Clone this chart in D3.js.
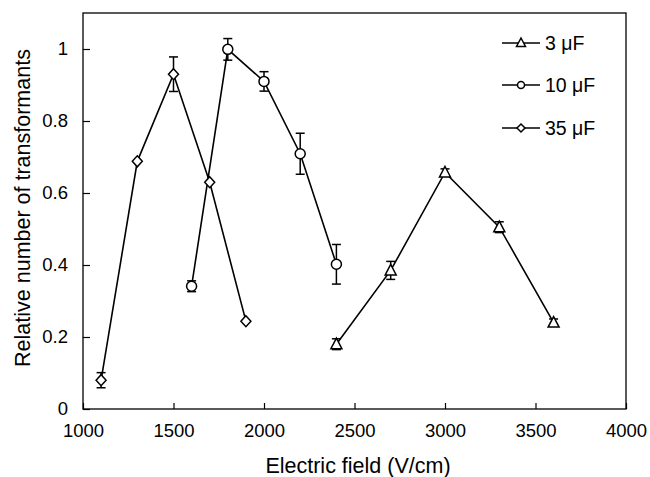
<!DOCTYPE html>
<html><head><meta charset="utf-8">
<script src="https://cdn.jsdelivr.net/npm/d3@7"></script>
<style>body{margin:0;background:#fff}svg{display:block}text{font-family:"Liberation Sans",Arial,sans-serif;fill:#000}</style>
</head><body><svg id="c" width="650" height="477"></svg>
<script>
const xTicks = [1000,1500,2000,2500,3000,3500,4000];
const yTicks = [0,0.2,0.4,0.6,0.8,1];
const seriesNames = ["3 \u03bcF","10 \u03bcF","35 \u03bcF"];
const x3 = [2400,2700,3000,3300,3600];
const y3 = [0.18,0.385,0.657,0.505,0.24];
const e3 = [0.015,0.025,0.01,0.015,0.01];
const x10 = [1600,1800,2000,2200,2400];
const y10 = [0.341,0.999,0.91,0.709,0.402];
const e10 = [0.015,0.03,0.027,0.057,0.055];
const x35 = [1100,1300,1500,1700,1900];
const y35 = [0.08,0.688,0.93,0.63,0.244];
const e35 = [0.021,0,0.048,0,0];

const svg = d3.select("#c");
const L=83,R=626,T=13,B=409;
const x = d3.scaleLinear().domain([1000,4000]).range([L,R]);
const y = d3.scaleLinear().domain([0,1.1]).range([B,T]);

svg.append("rect").attr("x",L).attr("y",T).attr("width",R-L).attr("height",B-T)
  .attr("fill","none").attr("stroke","#000").attr("stroke-width",1.3);

const xa = svg.append("g").attr("transform",`translate(0,${B})`)
  .call(d3.axisBottom(x).tickValues(xTicks).tickSizeInner(-6).tickSizeOuter(0).tickPadding(15).tickFormat(d3.format("d")));
const ya = svg.append("g").attr("transform",`translate(${L},0)`)
  .call(d3.axisLeft(y).tickValues(yTicks).tickSizeInner(-7).tickSizeOuter(0).tickPadding(15).tickFormat(d=>d===0?"0":d===1?"1":d3.format(".1f")(d)));
[xa,ya].forEach(a=>{a.select(".domain").remove();a.selectAll("line").attr("stroke","#000").attr("stroke-width",1.2);
  a.selectAll("text").attr("font-size",18.5).attr("font-family","Liberation Sans, Arial, sans-serif");});

svg.append("text").attr("x",358).attr("y",473).attr("text-anchor","middle").attr("font-size",21.5).text("Electric field (V/cm)");
svg.append("text").attr("transform","translate(30,208) rotate(-90)").attr("text-anchor","middle").attr("font-size",21.5).text("Relative number of transformants");

const series = [
  {xs:x3,ys:y3,es:e3,m:"tri"},
  {xs:x10,ys:y10,es:e10,m:"circ"},
  {xs:x35,ys:y35,es:e35,m:"dia"}];
const line = d3.line().x(d=>x(d[0])).y(d=>y(d[1]));
function marker(g,type,cx,cy){
  if(type==="circ") g.append("circle").attr("cx",cx).attr("cy",cy).attr("r",5);
  else if(type==="tri") g.append("path").attr("d",`M${cx},${cy-6}L${cx+5.5},${cy+4.5}L${cx-5.5},${cy+4.5}Z`);
  else g.append("path").attr("d",`M${cx},${cy-5.5}L${cx+5},${cy}L${cx},${cy+5.5}L${cx-5},${cy}Z`);
}
series.forEach(s=>{
  const pts = s.xs.map((v,i)=>[v,s.ys[i],s.es[i]]);
  svg.append("path").attr("d",line(pts)).attr("fill","none").attr("stroke","#000").attr("stroke-width",1.6);
  const g = svg.append("g").attr("stroke","#000").attr("stroke-width",1.5);
  pts.forEach(p=>{
    if(p[2]>0){
      const cx=x(p[0]), t=y(p[1]+p[2]), b=y(p[1]-p[2]);
      g.append("line").attr("x1",cx).attr("x2",cx).attr("y1",t).attr("y2",b);
      g.append("line").attr("x1",cx-4.5).attr("x2",cx+4.5).attr("y1",t).attr("y2",t);
      g.append("line").attr("x1",cx-4.5).attr("x2",cx+4.5).attr("y1",b).attr("y2",b);
    }
  });
  const mg = svg.append("g").attr("fill","#fff").attr("stroke","#000").attr("stroke-width",1.5);
  pts.forEach(p=>marker(mg,s.m,x(p[0]),y(p[1])));
});

const leg = svg.append("g");
const legY=[43,85,128];
["tri","circ","dia"].forEach((m,i)=>{
  leg.append("line").attr("x1",502).attr("x2",540).attr("y1",legY[i]).attr("y2",legY[i]).attr("stroke","#000").attr("stroke-width",1.5);
  const mg=leg.append("g").attr("fill","#fff").attr("stroke","#000").attr("stroke-width",1.5);
  if(m==="circ") mg.append("circle").attr("cx",521).attr("cy",legY[i]).attr("r",3.5);
  else if(m==="tri") mg.append("path").attr("d",`M521,${legY[i]-5}L525.5,${legY[i]+3.5}L516.5,${legY[i]+3.5}Z`);
  else mg.append("path").attr("d",`M521,${legY[i]-4}L525,${legY[i]}L521,${legY[i]+4}L517,${legY[i]}Z`);
  leg.append("text").attr("x",545).attr("y",legY[i]+7).attr("font-size",19.5).text(seriesNames[i]);
});
</script></body></html>
